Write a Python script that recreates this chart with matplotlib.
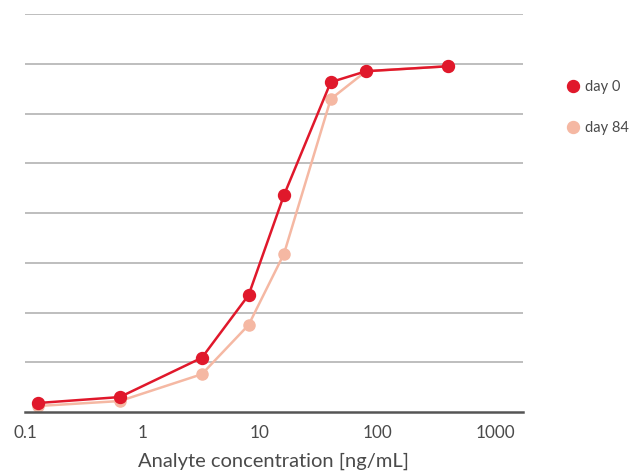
import matplotlib
matplotlib.use("Agg")
import matplotlib.pyplot as plt
from matplotlib.lines import Line2D

plt.rcParams['font.family'] = ['Lato', 'DejaVu Sans']

conc = [0.128, 0.64, 3.2, 8, 16, 40, 80, 400]
day0 = [0.18, 0.30, 1.09, 2.35, 4.36, 6.63, 6.85, 6.95]
day84 = [0.12, 0.22, 0.76, 1.75, 3.18, 6.29, 6.85, 6.95]
xticks = [0.1, 1, 10, 100, 1000]
xticklabels = ["0.1", "1", "10", "100", "1000"]
series_labels = ["day 0", "day 84"]

red = "#E0182B"
pink = "#F5B8A3"
textc = "#4a4a4a"

fig = plt.figure(figsize=(6.42, 4.76), dpi=100)
ax = fig.add_axes([25/642, 1-412/476, 498/642, 398/476])

ax.set_xscale('log')
ax.set_xlim(0.1, 10**(-1 + 498/117.5))
ax.set_ylim(0, 8)

for yv in range(1, 9):
    ax.axhline(yv, color="#b9b9b9", lw=1.3, zorder=0)

ax.plot(conc, day84, color=pink, lw=1.8, marker='o', ms=8, zorder=2)
ax.plot(conc, day0, color=red, lw=1.8, marker='o', ms=8.6, zorder=3)

for s in ['top', 'right', 'left']:
    ax.spines[s].set_visible(False)
ax.spines['bottom'].set_color("#555555")
ax.spines['bottom'].set_linewidth(1.8)
ax.set_yticks([])
ax.set_xticks(xticks)
ax.set_xticklabels(xticklabels)
ax.xaxis.set_minor_locator(matplotlib.ticker.NullLocator())
ax.tick_params(axis='x', length=0, pad=9, labelsize=12.3, labelcolor=textc)
ax.set_xlabel("Analyte concentration [ng/mL]", fontsize=14.5, color=textc, labelpad=9)

handles = [Line2D([], [], color=red, marker='o', ls='none', ms=8.6),
           Line2D([], [], color=pink, marker='o', ls='none', ms=8.6)]
fig.legend(handles, series_labels, loc='upper left', bbox_to_anchor=(551/642, 1-67/476),
           frameon=False, fontsize=10.5, labelcolor=textc, handletextpad=0.25,
           labelspacing=1.85, handlelength=1.2)

fig.savefig("out.png", dpi=100)
